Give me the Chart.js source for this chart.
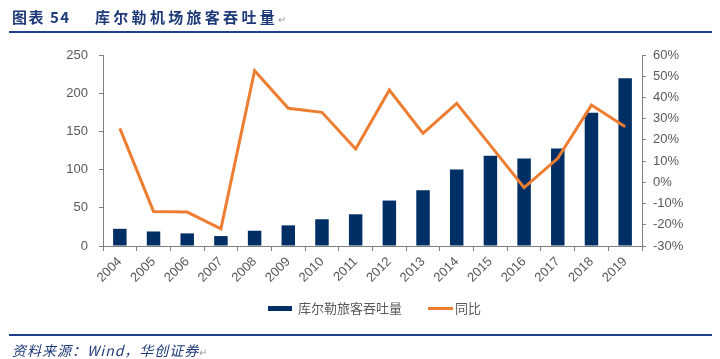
<!DOCTYPE html>
<html>
<head>
<meta charset="utf-8">
<script src="https://cdn.jsdelivr.net/npm/chart.js@4/dist/chart.umd.min.js"></script>
<style>
  html, body { margin: 0; padding: 0; background: #fff; width: 720px; height: 359px; overflow: hidden; }
  #wrap { position: absolute; left: 0; top: 0; width: 720px; height: 359px; }
  .tt { position: absolute; top: 6px; font-family: "Noto Sans CJK SC", serif; font-weight: bold; color: #1F3A78; font-size: 15px; white-space: nowrap; }
  #ta { left: 12px; letter-spacing: 1.5px; }
  #tb { left: 95px; letter-spacing: 3.3px; }
  #tline { position: absolute; left: 9px; top: 31px; width: 703px; height: 2px; background: #1F3F8F; }
  #fline { position: absolute; left: 9px; top: 334px; width: 703px; height: 2px; background: #1F3F8F; }
  #footer { position: absolute; left: 12px; top: 340px; font-family: "Noto Sans CJK SC", serif; font-style: italic; color: #1F3A78; font-size: 14px; letter-spacing: 1px; white-space: nowrap; }
  .pm { color: #999; font-size: 10px; font-style: normal; font-weight: normal; letter-spacing: 0; }
  #legend { position: absolute; top: 298px; left: 268px; font-family: "Noto Sans CJK SC", sans-serif; font-size: 13px; color: #595959; white-space: nowrap; height: 20px; }
  .sw1 { position: absolute; left: 0; top: 8px; width: 24px; height: 5px; background: #002F65; }
  .t1 { position: absolute; left: 30px; top: 0; }
  .sw2 { position: absolute; left: 160px; top: 9px; width: 25px; height: 3px; background: #ED7D31; }
  .t2 { position: absolute; left: 187px; top: 0; }
</style>
</head>
<body>
<div id="wrap"><canvas id="c" width="720" height="359"></canvas></div>
<div class="tt" id="ta">图表 54</div>
<div class="tt" id="tb">库尔勒机场旅客吞吐量<span class="pm">↵</span></div>
<div id="tline"></div>
<div id="legend"><div class="sw1"></div><div class="t1">库尔勒旅客吞吐量</div><div class="sw2"></div><div class="t2">同比</div></div>
<div id="fline"></div>
<div id="footer">资料来源：Wind，华创证券<span class="pm">↵</span></div>
<script>
const years = ["2004","2005","2006","2007","2008","2009","2010","2011","2012","2013","2014","2015","2016","2017","2018","2019"];
const passengers = [22.5, 19, 16.5, 13, 20, 27, 35, 41.5, 59.5, 73, 100, 118, 114.5, 127.5, 174.5, 219.5];
const yoy = [25.4, -13.7, -14, -21.9, 52.6, 34.9, 33, 15.7, 43.5, 23.1, 37.2, 17.4, -2.5, 11.3, 36.4, 26.2];
const leftTicks = [0, 50, 100, 150, 200, 250];
const rightTicks = [-30, -20, -10, 0, 10, 20, 30, 40, 50, 60];

const axisColor = "#7F7F7F";
const tickFont = { family: "Liberation Sans, Arial, sans-serif", size: 13 };
const tickColor = "#595959";

new Chart(document.getElementById("c"), {
  data: {
    labels: years,
    datasets: [
      { type: "line", label: "同比", data: yoy, yAxisID: "y1", borderColor: "#ED7D31", borderWidth: 3, pointRadius: 0, tension: 0, order: 0, borderJoinStyle: "miter" },
      { type: "bar", label: "库尔勒旅客吞吐量", data: passengers, yAxisID: "y", backgroundColor: "#002F65", barPercentage: 0.4, categoryPercentage: 1, order: 1 }
    ]
  },
  options: {
    responsive: false,
    animation: false,
    devicePixelRatio: 1,
    layout: { padding: { top: 55, left: 0, right: 0, bottom: 0 } },
    plugins: { legend: { display: false }, tooltip: { enabled: false } },
    scales: {
      x: {
        offset: true,
        grid: { display: true, offset: true, drawOnChartArea: false, drawTicks: true, tickLength: 5, color: axisColor },
        border: { display: true, color: axisColor, width: 1 },
        ticks: { font: tickFont, color: tickColor, maxRotation: 45, minRotation: 45, padding: 3, autoSkip: false },
        afterFit: (s) => { s.height = 113; }
      },
      y: {
        position: "left",
        min: 0, max: 250,
        afterBuildTicks: (s) => { s.ticks = leftTicks.map(v => ({ value: v })); },
        grid: { drawOnChartArea: false, tickLength: 4, color: axisColor },
        border: { color: axisColor, width: 1 },
        ticks: { font: tickFont, color: tickColor, padding: 11 },
        afterFit: (s) => { s.width = 103; }
      },
      y1: {
        position: "right",
        min: -30, max: 60,
        afterBuildTicks: (s) => { s.ticks = rightTicks.map(v => ({ value: v })); },
        grid: { drawOnChartArea: false, tickLength: 4, color: axisColor },
        border: { color: axisColor, width: 1 },
        ticks: { font: tickFont, color: tickColor, padding: 7, callback: (v) => v + "%" },
        afterFit: (s) => { s.width = 78; }
      }
    }
  }
});
</script>
</body>
</html>
